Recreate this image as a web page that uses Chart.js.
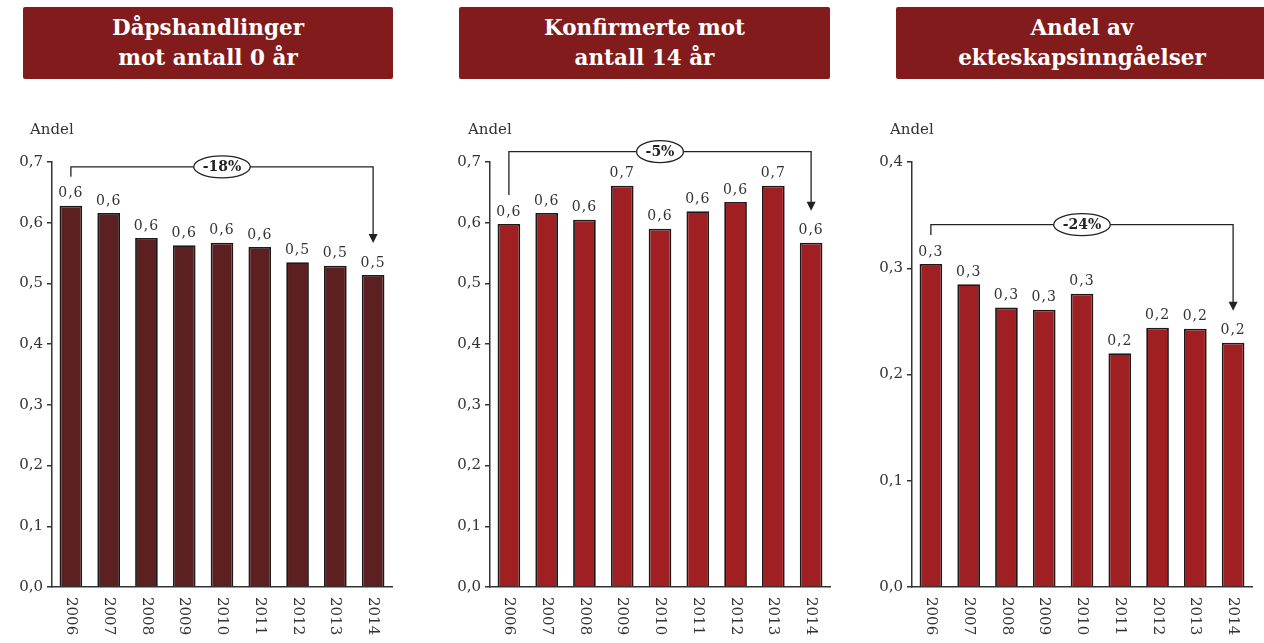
<!DOCTYPE html>
<html>
<head>
<meta charset="utf-8">
<script src="https://cdn.jsdelivr.net/npm/chart.js@4"></script>
<style>
  body { margin: 0; background: #fff; width: 1264px; height: 643px; position: relative; overflow: hidden; font-family: "DejaVu Serif", serif; }
  .title { position: absolute; top: 7px; height: 72px; background: #821c1c; color: #fff; font-weight: bold; font-size: 21.5px; line-height: 30px; text-align: center; display: flex; align-items: center; justify-content: center; border-radius: 2px; }
  canvas { position: absolute; top: 100px; }
</style>
</head>
<body>
<div class="title" style="left:23px;width:370px">Dåpshandlinger<br>mot antall 0 år</div>
<div class="title" style="left:459px;width:371px">Konfirmerte mot<br>antall 14 år</div>
<div class="title" style="left:896px;width:372px">Andel av<br>ekteskapsinngåelser</div>
<canvas id="c0" width="400" height="543" style="left:0px"></canvas>
<canvas id="c1" width="400" height="543" style="left:438px"></canvas>
<canvas id="c2" width="404" height="543" style="left:860px"></canvas>
<script>
// data
const years = ['2006', '2007', '2008', '2009', '2010', '2011', '2012', '2013', '2014'];
const daap = [0.628, 0.616, 0.575, 0.563, 0.567, 0.560, 0.535, 0.529, 0.514];
const konf = [0.598, 0.616, 0.605, 0.661, 0.590, 0.619, 0.634, 0.661, 0.567];
const ekte = [0.304, 0.285, 0.263, 0.261, 0.276, 0.220, 0.244, 0.243, 0.230];
const yMax = [0.7, 0.7, 0.4];
const changeLabels = ['-18%', '-5%', '-24%'];
const bracketLevel = [0.692, 0.717, 0.341];

const series = [daap, konf, ekte];
const barColors = ['#5c2020', '#a01f22', '#a01f22'];
const rightPad = [8, 8, 12];
const FONT = '"DejaVu Serif", serif';
const comma = v => v.toFixed(1).replace('.', ',');

// etiketter, årstall og pil tegnes selv
const annot = {
  id: 'annot',
  afterDraw(chart, args, opts) {
    const i = opts.idx;
    const ctx = chart.ctx;
    const area = chart.chartArea;
    const meta = chart.getDatasetMeta(0);
    const xs = chart.scales.x;
    const ys = chart.scales.y;
    ctx.save();

    // Andel
    ctx.fillStyle = '#333';
    ctx.font = '15px ' + FONT;
    ctx.textAlign = 'left';
    ctx.textBaseline = 'alphabetic';
    ctx.fillText('Andel', area.left - 22, 34);

    // verdier over stolpene
    ctx.font = '14px ' + FONT;
    ctx.letterSpacing = '1px';
    ctx.textAlign = 'center';
    ctx.textBaseline = 'bottom';
    meta.data.forEach((bar, j) => {
      ctx.fillText(comma(series[i][j]), bar.x, bar.y - 5);
    });
    ctx.letterSpacing = '0px';

    // årstall, rotert med klokka
    ctx.font = '15px ' + FONT;
    ctx.textAlign = 'left';
    ctx.textBaseline = 'middle';
    xs.ticks.forEach((t, j) => {
      ctx.save();
      ctx.translate(xs.getPixelForTick(j), area.bottom + 10);
      ctx.rotate(Math.PI / 2);
      ctx.fillText(years[j], 0, 0);
      ctx.restore();
    });

    // pil med endring
    const first = meta.data[0];
    const last = meta.data[meta.data.length - 1];
    const yb = ys.getPixelForValue(bracketLevel[i]);
    const tip = last.y - 32;
    ctx.strokeStyle = '#222';
    ctx.fillStyle = '#222';
    ctx.lineWidth = 1.3;
    ctx.beginPath();
    ctx.moveTo(first.x, first.y - 29);
    ctx.lineTo(first.x, yb);
    ctx.lineTo(last.x, yb);
    ctx.lineTo(last.x, tip - 8);
    ctx.stroke();
    ctx.beginPath();
    ctx.moveTo(last.x - 4.5, tip - 9);
    ctx.lineTo(last.x + 4.5, tip - 9);
    ctx.lineTo(last.x, tip);
    ctx.closePath();
    ctx.fill();

    ctx.font = 'bold 14px ' + FONT;
    const w = ctx.measureText(changeLabels[i]).width;
    const cx = (first.x + last.x) / 2;
    ctx.beginPath();
    ctx.ellipse(cx, yb, w / 2 + 9, 11, 0, 0, Math.PI * 2);
    ctx.fillStyle = '#fff';
    ctx.fill();
    ctx.stroke();
    ctx.fillStyle = '#222';
    ctx.textAlign = 'center';
    ctx.textBaseline = 'middle';
    ctx.fillText(changeLabels[i], cx, yb + 1);
    ctx.restore();
  }
};

series.forEach((vals, i) => {
  new Chart(document.getElementById('c' + i), {
    type: 'bar',
    data: {
      labels: years,
      datasets: [{
        data: vals,
        backgroundColor: barColors[i],
        borderColor: '#1a1a1a',
        borderWidth: 1.8,
        categoryPercentage: 1,
        barPercentage: 0.6
      }]
    },
    plugins: [annot],
    options: {
      responsive: false,
      animation: false,
      layout: { padding: { top: 62, right: rightPad[i], left: 0, bottom: 0 } },
      plugins: {
        legend: { display: false },
        tooltip: { enabled: false },
        annot: { idx: i }
      },
      scales: {
        x: {
          offset: true,
          grid: { display: false },
          border: { color: '#333', width: 1.5 },
          ticks: { color: 'rgba(0,0,0,0)', minRotation: 90, maxRotation: 90, font: { family: FONT, size: 15 } },
          afterFit: s => { s.height = 56; }
        },
        y: {
          min: 0,
          max: yMax[i],
          ticks: {
            stepSize: 0.1,
            callback: v => comma(v),
            color: '#333',
            padding: 4,
            font: { family: FONT, size: 15 }
          },
          grid: { drawOnChartArea: false, tickLength: 5, color: '#333', lineWidth: 1.5 },
          border: { color: '#333', width: 1.5 },
          afterFit: s => { s.width = 52; }
        }
      }
    }
  });
});
</script>
</body>
</html>
